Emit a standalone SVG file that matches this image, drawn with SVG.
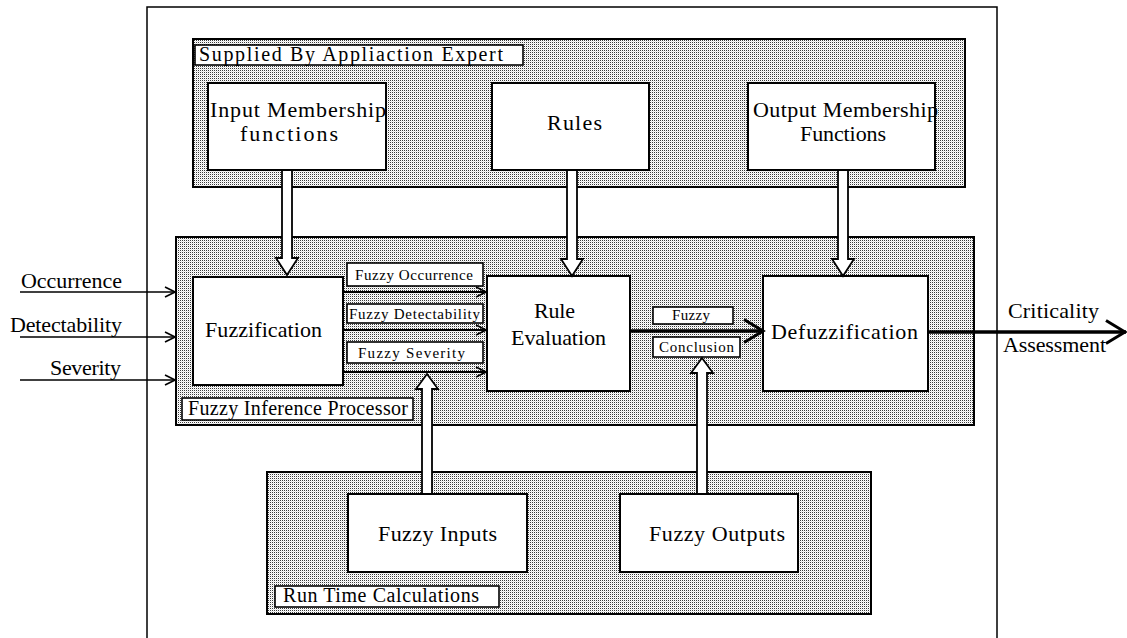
<svg xmlns="http://www.w3.org/2000/svg" width="1127" height="638" viewBox="0 0 1127 638">
  <defs>
    <!-- halftone stipple used for the three grouping panels -->
    <pattern id="stipple" width="2" height="2" patternUnits="userSpaceOnUse">
      <rect width="2" height="2" fill="#ffffff"/>
      <rect x="0" y="0" width="1" height="1" fill="#3a3a3a"/>
      <rect x="1" y="1" width="1" height="1" fill="#e2e2e2"/>
    </pattern>
    <marker id="chev" viewBox="0 0 12 12" refX="11" refY="6" markerWidth="12" markerHeight="12" markerUnits="userSpaceOnUse" orient="auto">
      <path d="M1,1 L11,6 L1,11" fill="none" stroke="#000" stroke-width="1.6"/>
    </marker>
    <marker id="chevBig" viewBox="0 0 24 26" refX="22" refY="13" markerWidth="24" markerHeight="26" markerUnits="userSpaceOnUse" orient="auto">
      <path d="M2,1.5 L21,13 L2,24.5" fill="none" stroke="#000" stroke-width="3"/>
    </marker>
  </defs>
  <style>
    .panel { fill: url(#stipple); stroke: #000; stroke-width: 2; }
    .box { fill: #fff; stroke: #000; stroke-width: 2; }
    .tag { fill: #fff; stroke: #000; stroke-width: 1.6; }
    text { font-family: "Liberation Serif", "Times New Roman", serif; fill: #000; }
    .big { font-size: 22px; }
    .mid { font-size: 20px; }
    .small { font-size: 15px; }
    .line { fill: none; stroke: #000; stroke-width: 1.5; }
    .flow { fill: none; stroke: #000; stroke-width: 2; }
    .thick { fill: none; stroke: #000; stroke-width: 3.5; }
    .hollow { fill: #fff; stroke: #000; stroke-width: 1.8; stroke-linejoin: miter; }
  </style>

  <rect width="1127" height="638" fill="#fff"/>

  <!-- outer frame -->
  <g id="frame">
    <path d="M147,645 V7 H997 V645" class="line"/>
  </g>

  <!-- knowledge supplied by the application expert -->
  <g id="supplied-by-expert">
    <rect x="193" y="39" width="772" height="148" class="panel"/>
    <rect x="195" y="45" width="328" height="20" class="tag"/>
    <text x="199" y="61" class="mid" textLength="304" lengthAdjust="spacing">Supplied  By  Appliaction  Expert</text>
  </g>

  <g id="input-membership">
    <rect x="208" y="83" width="178" height="87" class="box"/>
    <text x="210" y="117" class="big" textLength="176" lengthAdjust="spacing">Input Membership</text>
    <text x="240" y="141" class="big" textLength="98" lengthAdjust="spacing">functions</text>
  </g>

  <g id="rules">
    <rect x="492" y="83" width="157" height="87" class="box"/>
    <text x="547" y="130" class="big" textLength="55" lengthAdjust="spacing">Rules</text>
  </g>

  <g id="output-membership">
    <rect x="748" y="83" width="187" height="87" class="box"/>
    <text x="753" y="117" class="big" textLength="185" lengthAdjust="spacing">Output Membership</text>
    <text x="800" y="141" class="big" textLength="86" lengthAdjust="spacing">Functions</text>
  </g>

  <!-- fuzzy inference processor -->
  <g id="fuzzy-inference-processor">
    <rect x="176" y="237" width="798" height="188" class="panel"/>
    <rect x="182" y="398" width="231" height="22" class="tag"/>
    <text x="188" y="415" class="mid" textLength="220" lengthAdjust="spacing">Fuzzy  Inference  Processor</text>
  </g>

  <g id="fuzzification">
    <rect x="193" y="277" width="150" height="108" class="box"/>
    <text x="205" y="337" class="big" textLength="117" lengthAdjust="spacing">Fuzzification</text>
  </g>

  <g id="rule-evaluation">
    <rect x="487" y="276" width="143" height="115" class="box"/>
    <text x="534" y="318" class="big" textLength="41" lengthAdjust="spacing">Rule</text>
    <text x="511" y="345" class="big" textLength="95" lengthAdjust="spacing">Evaluation</text>
  </g>

  <g id="defuzzification">
    <rect x="763" y="276" width="165" height="115" class="box"/>
    <text x="771" y="339" class="big" textLength="147" lengthAdjust="spacing">Defuzzification</text>
  </g>

  <g id="label-fuzzy-occurrence">
    <rect x="347" y="263" width="136" height="23" class="tag"/>
    <text x="355" y="280" class="small" textLength="118" lengthAdjust="spacing">Fuzzy Occurrence</text>
  </g>
  <g id="label-fuzzy-detectability">
    <rect x="347" y="304" width="136" height="19" class="tag"/>
    <text x="349" y="319" class="small" textLength="131" lengthAdjust="spacing">Fuzzy Detectability</text>
  </g>
  <g id="label-fuzzy-severity">
    <rect x="347" y="342" width="136" height="21" class="tag"/>
    <text x="358" y="358" class="small" textLength="107" lengthAdjust="spacing">Fuzzy Severity</text>
  </g>
  <g id="label-fuzzy-conclusion">
    <rect x="653" y="307" width="80" height="17" class="tag"/>
    <text x="672" y="320" class="small" textLength="38" lengthAdjust="spacing">Fuzzy</text>
    <rect x="653" y="337" width="87" height="20" class="tag"/>
    <text x="659" y="352" class="small" textLength="75" lengthAdjust="spacing">Conclusion</text>
  </g>

  <!-- run time calculations -->
  <g id="run-time-calculations">
    <rect x="267" y="472" width="604" height="142" class="panel"/>
    <rect x="275" y="586" width="224" height="21" class="tag"/>
    <text x="283" y="602" class="mid" textLength="196" lengthAdjust="spacing">Run  Time  Calculations</text>
  </g>

  <g id="fuzzy-inputs">
    <rect x="348" y="494" width="179" height="78" class="box"/>
    <text x="378" y="541" class="big" textLength="119" lengthAdjust="spacing">Fuzzy  Inputs</text>
  </g>

  <g id="fuzzy-outputs">
    <rect x="620" y="494" width="178" height="78" class="box"/>
    <text x="649" y="541" class="big" textLength="136" lengthAdjust="spacing">Fuzzy  Outputs</text>
  </g>

  <!-- external inputs and output -->
  <g id="external-labels">
    <text x="21" y="288" class="big" textLength="101" lengthAdjust="spacing">Occurrence</text>
    <text x="10" y="332" class="big" textLength="112" lengthAdjust="spacing">Detectability</text>
    <text x="50" y="375" class="big" textLength="71" lengthAdjust="spacing">Severity</text>
    <text x="1008" y="318" class="big" textLength="91" lengthAdjust="spacing">Criticality</text>
    <text x="1003" y="352" class="big" textLength="103" lengthAdjust="spacing">Assessment</text>
  </g>

  <g id="connectors">
    <!-- crisp inputs into fuzzification -->
    <line x1="20" y1="292" x2="175" y2="292" class="line" marker-end="url(#chev)"/>
    <line x1="20" y1="337" x2="175" y2="337" class="line" marker-end="url(#chev)"/>
    <line x1="20" y1="380" x2="175" y2="380" class="line" marker-end="url(#chev)"/>
    <!-- fuzzified values into rule evaluation -->
    <line x1="343" y1="292" x2="486" y2="292" class="flow" marker-end="url(#chev)"/>
    <line x1="343" y1="330" x2="486" y2="330" class="flow" marker-end="url(#chev)"/>
    <line x1="343" y1="372" x2="486" y2="372" class="flow" marker-end="url(#chev)"/>
    <!-- fuzzy conclusion into defuzzification -->
    <line x1="630" y1="331" x2="764" y2="331" class="thick" marker-end="url(#chevBig)"/>
    <!-- crisp result -->
    <line x1="928" y1="332" x2="1126" y2="332" class="thick" marker-end="url(#chevBig)"/>
    <!-- hollow supply arrows -->
    <path d="M282,171 V258 H276 L287,275 L298,258 H292 V171" class="hollow"/>
    <path d="M567,171 V259 H561 L572,276 L583,259 H577 V171" class="hollow"/>
    <path d="M838,171 V259 H832 L843,276 L854,259 H848 V171" class="hollow"/>
    <path d="M422,493 V389 H416 L427,374 L438,389 H432 V493" class="hollow"/>
    <path d="M697,493 V373 H691 L702,358 L713,373 H707 V493" class="hollow"/>
  </g>
</svg>
